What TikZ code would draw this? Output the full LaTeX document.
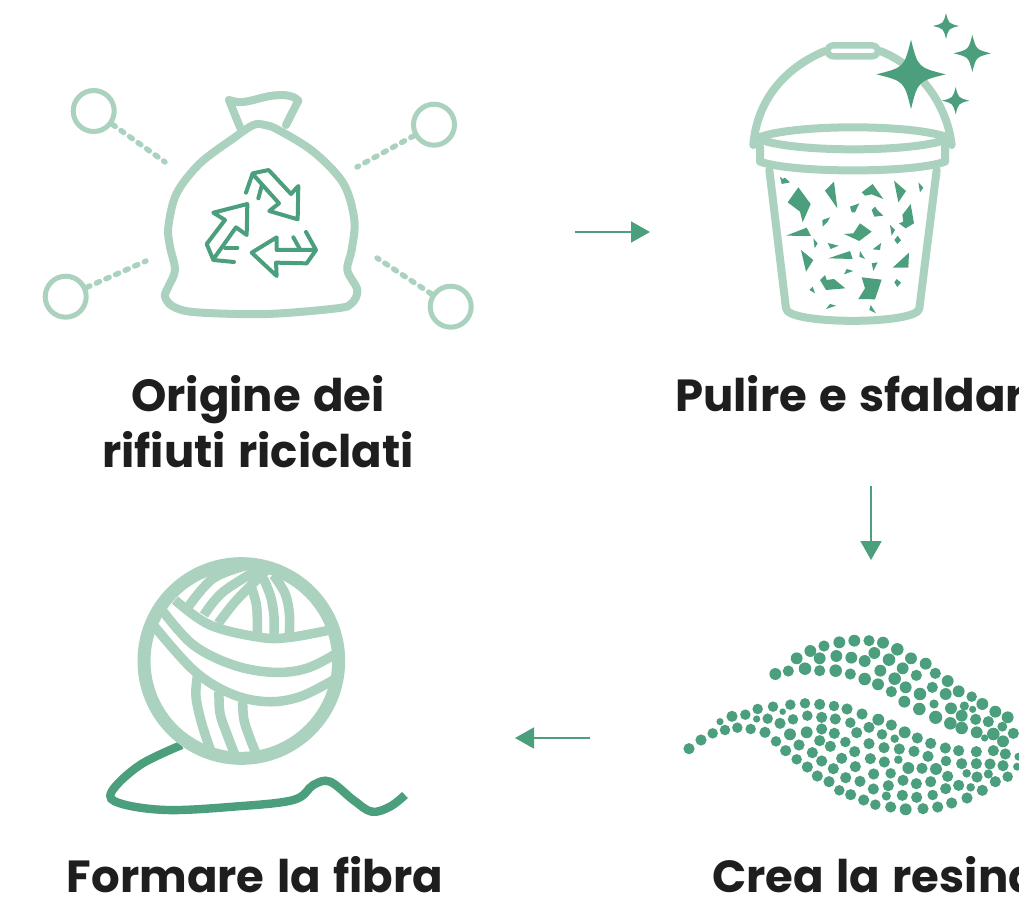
\documentclass[tikz,border=0pt]{standalone}
\usepackage{fontspec}
\setmainfont{Poppins}[WordSpace=1.3]
\usetikzlibrary{arrows.meta}
\definecolor{lightg}{HTML}{ABD1BF}
\definecolor{darkg}{HTML}{4B9F7C}
\definecolor{ink}{HTML}{1E1E1E}
\newcommand{\spark}[3]{\fill[darkg] (#1,#2-#3) .. controls (#1+.2*#3,#2-.2*#3) .. (#1+#3,#2) .. controls (#1+.2*#3,#2+.2*#3) .. (#1,#2+#3) .. controls (#1-.2*#3,#2+.2*#3) .. (#1-#3,#2) .. controls (#1-.2*#3,#2-.2*#3) .. cycle;}
\tikzset{
  lab/.style={font=\fontsize{45}{57}\selectfont\bfseries,text=ink,align=center,inner sep=0pt,anchor=base},
  flow/.style={darkg,line width=1.8pt,-{Triangle[length=19pt,width=21pt]}},
  ring/.style={circle,draw=lightg,line width=5pt,inner sep=0pt,minimum size=41pt},
  dots/.style={lightg,line width=5.4pt,line cap=round,dash pattern=on 3.5pt off 7pt},
  bag/.style={lightg,line width=8pt,line join=round,line cap=round},
  rec/.style={darkg,line width=4pt,line join=round,line cap=round},
  strand/.style={lightg,line width=9.5pt,line cap=butt},
  zoomA/.style={shift={(30,80)},x=.33333pt,y=-.33333pt},
  zoomB/.style={shift={(740,5)},x=.33333pt,y=-.33333pt},
  zoomC/.style={shift={(675,625)},x=.33333pt,y=-.33333pt},
  zoomD/.style={shift={(100,550)},x=.33333pt,y=-.33333pt},
}
\begin{document}
\begin{tikzpicture}[x=1pt,y=-1pt]
\useasboundingbox (0,0) rectangle (1019,896);
\clip (0,0) rectangle (1019,896);
% --- bag
\begin{scope}[zoomA]
\draw[bag] plot[smooth cycle,tension=.55] coordinates {(705,135)(745,150)(850,215)(940,310)(973,420)(965,510)(952,570)(982,630)(965,670)(920,685)(710,702)(500,697)(430,680)(405,650)(415,620)(435,570)(420,500)(415,440)(440,340)(510,250)(610,175)(670,135)};
\draw[bag] (630,142) -- (597,60) .. controls (640,75) and (660,60) .. (720,48) .. controls (760,42) and (790,45) .. (805,62) -- (768,135);
\draw[rec] (648,338) -- (668,280) -- (716,270) -- (783,342) -- (805,318) -- (803,418) -- (718,393) -- (747,370) -- (668,282);
\draw[rec] (685,355) -- (695,318);
\draw[rec] (612,546) -- (550,540) -- (530,492) -- (585,420) -- (550,398) -- (652,372) -- (650,465) -- (618,442) -- (552,535);
\draw[rec] (585,503) -- (622,503);
\draw[rec] (828,456) -- (858,510) -- (740,510) -- (740,472) -- (665,518) -- (740,588) -- (738,548) -- (830,550) -- (858,510);
\draw[rec] (790,472) -- (810,508);
\end{scope}
\node[ring] (c1) at (93.7,111) {};
\node[ring] (c2) at (434,124.7) {};
\node[ring] (c3) at (65.7,296.7) {};
\node[ring] (c4) at (450.7,306.7) {};
\coordinate (d1) at (165,162);
\coordinate (d2) at (357,167);
\coordinate (d3) at (146,261);
\coordinate (d4) at (377,258);
\draw[dots] (c1) -- (d1);
\draw[dots] (c2) -- (d2);
\draw[dots] (c3) -- (d3);
\draw[dots] (c4) -- (d4);
% --- bucket
\begin{scope}[zoomB]
\tikzset{buck/.style={lightg,line width=8pt,line join=round,line cap=round}}
\draw[buck] (40,420) .. controls (50,290) and (130,190) .. (255,138);
\draw[buck] (420,138) .. controls (530,180) and (620,290) .. (635,420);
\draw[buck,line width=6.4pt,rounded corners=6pt,fill=white] (262,121) rectangle (414,154);
\draw[buck] (50,400) .. controls (150,356) and (530,356) .. (630,400) .. controls (530,444) and (150,444) .. cycle;
\draw[buck] (60,425) -- (60,470) .. controls (160,505) and (520,505) .. (615,470) -- (615,425);
\draw[buck] (88,495) -- (138,910) .. controls (140,960) and (535,960) .. (538,910) -- (590,495);
\foreach \p in {
 {(120,515)--(128,522)--(135,518)--(150,532)--(125,537)},
 {(175,547)--(212,597)--(188,652)--(180,620)--(143,592)},
 {(282,530)--(292,610)--(255,557)},
 {(398,537)--(430,582)--(395,568)--(375,572)--(365,562)},
 {(462,527)--(498,558)--(475,592)},
 {(535,532)--(550,548)--(540,562)},
 {(330,605)--(358,595)--(345,622)--(335,622)},
 {(405,605)--(412,615)--(430,632)--(403,635)--(395,615)},
 {(512,597)--(522,655)--(497,670)--(477,655)--(490,650)--(487,630)},
 {(270,637)--(263,650)--(248,665)--(247,645)},
 {(360,655)--(395,680)--(358,708)--(312,687)--(340,685)},
 {(450,660)--(465,675)--(455,692)},
 {(473,692)--(483,706)--(472,717)--(463,705)},
 {(200,668)--(213,693)--(138,692)},
 {(220,700)--(233,715)--(224,730)},
 {(263,714)--(296,722)--(272,732)},
 {(423,714)--(420,735)--(398,733)},
 {(183,735)--(220,765)--(198,800)},
 {(330,738)--(338,762)--(265,760)},
 {(360,738)--(375,762)--(358,755)},
 {(507,743)--(505,788)--(458,788)},
 {(413,772)--(400,798)--(395,775)},
 {(320,792)--(340,798)--(312,808)},
 {(365,817)--(425,824)--(405,883)--(355,882)--(375,850)},
 {(255,810)--(260,825)--(282,822)--(316,850)--(258,855)--(240,825)},
 {(470,822)--(483,833)--(472,846)--(463,832)},
 {(218,845)--(225,865)--(208,855)},
 {(270,897)--(288,902)--(258,912)},
 {(392,900)--(408,925)--(388,915)}
}{\expandafter\fill\expandafter[\expandafter d\expandafter a\expandafter r\expandafter k\expandafter g\expandafter]\p--cycle;}
\spark{513}{208}{104}
\spark{618}{63}{39}
\spark{697}{145}{56}
\spark{647}{287}{41}
\end{scope}
% --- resin dots
\begin{scope}[zoomC]
\foreach \x/\y/\r in {301/147/16,340/138/15,390/131/17,434/137/15,482/137/17,526/147/15,569/162/17,609/178/16,649/200/15,688/230/16,733/252/17,782/277/18,826/295/17,860/309/17,905/322/16,929/339/9,955/327/17,984/349/16,
365/100/16,406/78/16,434/100/16,484/93/16,529/98/16,569/108/16,616/137/16,659/161/17,692/187/16,735/207/17,777/237/12,828/250/16,860/272/16,902/283/15,940/290/15,982/305/13,1015/325/15,
447/63/15,493/52/16,538/47/16,582/47/15,624/53/16,667/73/17,708/100/16,752/116/16,781/145/15,818/168/16,851/199/16,890/215/14,922/237/16,961/260/16,998/277/16,
598/84/16,642/104/17,683/130/16,724/151/15,772/187/15,812/207/16,868/243/12,893/253/9,
42/371/15,78/345/15,113/325/14,135/290/9,150/315/14,171/274/15,187/308/14,211/269/14,227/312/14,245/282/9,248/252/14,278/281/14,270/322/15,294/245/14,323/260/8,346/239/14,315/295/15,354/283/14,390/235/14,397/272/14,434/238/15,440/277/15,477/243/14,481/282/15,516/252/15,526/293/14,561/267/15,582/307/15,610/284/16,649/300/15,
345/328/16,395/322/16,440/312/15,478/325/15,545/323/15,621/328/14,689/322/16,659/341/11,727/339/15,767/355/15,811/369/15,851/377/15,904/380/15,955/377/15,991/387/15,1030/395/10,
303/349/14,372/360/15,434/347/15,511/351/14,582/356/15,627/368/15,673/372/15,717/379/15,759/394/15,
332/377/15,412/383/15,466/364/15,539/380/15,586/401/15,670/404/11,628/411/15,813/408/14,860/416/15,904/416/15,945/417/15,984/422/15,1026/425/10,
365/403/14,440/408/15,500/400/15,541/425/15,700/429/16,741/430/15,783/432/16,875/445/11,940/447/12,
397/426/15,475/431/15,596/447/15,647/445/14,818/454/15,906/456/15,961/470/15,998/455/14,
427/453/15,512/458/15,555/469/15,684/466/15,724/476/15,767/470/15,851/481/15,887/487/11,922/496/15,
462/470/15,595/492/15,640/482/15,812/491/15,876/519/15,
493/496/14,527/509/15,634/513/12,682/511/15,725/517/15,773/510/14,830/534/15,
566/525/15,601/539/14,647/546/15,692/553/16,744/551/15,788/546/15}
 {\fill[darkg] (\x,\y) circle[radius=\r+1.8];}
\end{scope}
% --- yarn
\begin{scope}[zoomD]
\draw[darkg,line width=8.4pt] plot[smooth,tension=.6] coordinates {(245,585)(120,645)(35,725)(60,760)(200,780)(400,770)(580,750)(640,705)(690,695)(760,750)(815,785)(870,770)(915,735)};
\begin{scope}
\clip (424,333) circle[radius=295];
\draw[strand] plot[smooth,tension=.6] coordinates {(225,150)(330,225)(480,262)(570,262)(690,240)};
\draw[strand] plot[smooth,tension=.6] coordinates {(190,185)(280,285)(400,345)(520,367)(620,355)(710,310)};
\draw[strand] plot[smooth,tension=.6] coordinates {(160,225)(280,360)(390,430)(500,455)(600,440)(700,390)};
\draw[strand] plot[smooth,tension=.6] coordinates {(265,170)(340,85)(445,45)};
\draw[strand] plot[smooth,tension=.6] coordinates {(312,195)(370,125)(490,50)};
\draw[strand] plot[smooth,tension=.6] coordinates {(355,220)(410,150)(500,60)};
\draw[strand] plot[smooth,tension=.6] coordinates {(455,115)(470,170)(472,252)};
\draw[strand] plot[smooth,tension=.6] coordinates {(490,85)(512,140)(522,200)(522,252)};
\draw[strand] plot[smooth,tension=.6] coordinates {(520,75)(555,130)(568,190)(568,252)};
\draw[strand] plot[smooth,tension=.6] coordinates {(292,380)(288,440)(305,520)(335,610)};
\draw[strand] plot[smooth,tension=.6] coordinates {(357,425)(360,490)(380,550)(405,615)};
\draw[strand] plot[smooth,tension=.6] coordinates {(428,455)(432,510)(450,565)(470,615)};
\end{scope}
\draw[lightg,line width=13pt] (424,333) circle[radius=292];
\end{scope}
% --- labels
\node[lab] (t1) at (258,411) {Origine dei};
\node[lab] (t2) at (258,467) {rifiuti riciclati};
\node[lab,anchor=base west] (t3) at (675,411) {Pulire e sfaldare};
\node[lab,anchor=base west] (t4) at (712,892) {Crea la resina};
\node[lab] (t5) at (255,892) {Formare la fibra};
% --- flow arrows
\coordinate (a1) at (575,232); \coordinate (a2) at (650,232);
\coordinate (b1) at (871,486); \coordinate (b2) at (871,560);
\coordinate (e1) at (590,738); \coordinate (e2) at (515,738);
\draw[flow] (a1) -- (a2);
\draw[flow] (b1) -- (b2);
\draw[flow] (e1) -- (e2);
\end{tikzpicture}
\end{document}
